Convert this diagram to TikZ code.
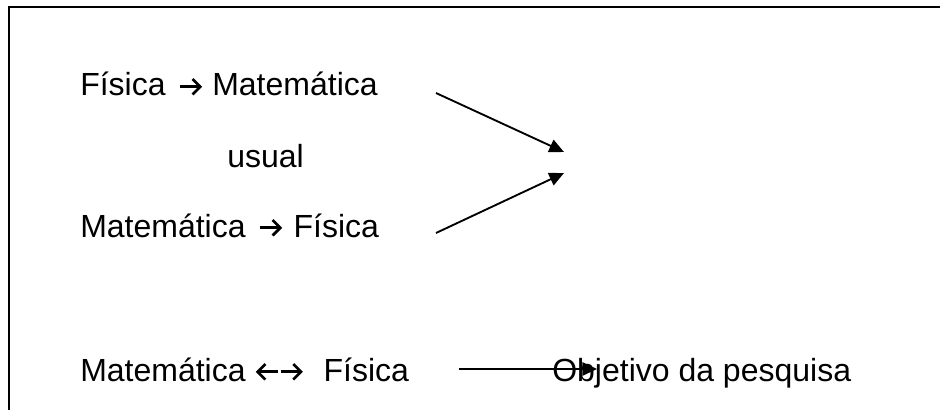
\documentclass[tikz,border=0pt]{standalone}
\usepackage{fontspec}
\setmainfont{Liberation Sans}
\usetikzlibrary{arrows.meta}
% chevron arrows set inline within the labels
\newcommand{\rarr}{\tikz[x=1pt,y=1pt,baseline=0pt,line width=2pt]{%
  \draw (0,6.9) -- (15,6.9); \draw[miter limit=4] (9.2,12.7) -- (15,6.9) -- (9.2,1.1);}}
\newcommand{\larr}{\tikz[x=1pt,y=1pt,baseline=0pt,line width=2pt]{%
  \draw (15.5,6.9) -- (0.5,6.9); \draw[miter limit=4] (6.3,12.7) -- (0.5,6.9) -- (6.3,1.1);}}
\begin{document}
\begin{tikzpicture}[x=0.75pt,y=-0.75pt,
  label/.style={anchor=base west,inner sep=0pt,font=\fontsize{24}{28}\selectfont},
  link/.style={line width=1.4pt,-{Triangle[length=11pt,width=10pt]}},
  frame/.style={line width=1.6pt}]
\clip (0,0) rectangle (940,410);
% open frame: only the top and left edges fall inside the page
\draw[frame] (960,7) -- (9,7) -- (9,430);

\node[label] (fm) at (80,96) {Física\hspace{10pt}\rarr\hspace{8pt}Matemática};
\node[label] (us) at (227,167) {usual};
\node[label] (mf) at (80,237) {Matemática\hspace{10pt}\rarr\hspace{9pt}Física};
\node[label] (mfm) at (80,381) {Matemática\hspace{8pt}\larr\hspace{0.5pt}\rarr\hspace{16pt}Física};
\node[label] (obj) at (552,381) {Objetivo da pesquisa};

\coordinate (a1s) at (436,93);
\coordinate (a1e) at (564,152);
\coordinate (a2s) at (436,233);
\coordinate (a2e) at (564,173);
\coordinate (a3s) at (459,369);
\coordinate (a3e) at (597,369);

\draw[link] (a1s) -- (a1e);
\draw[link] (a2s) -- (a2e);
\draw[link] (a3s) -- (a3e);
\end{tikzpicture}
\end{document}
